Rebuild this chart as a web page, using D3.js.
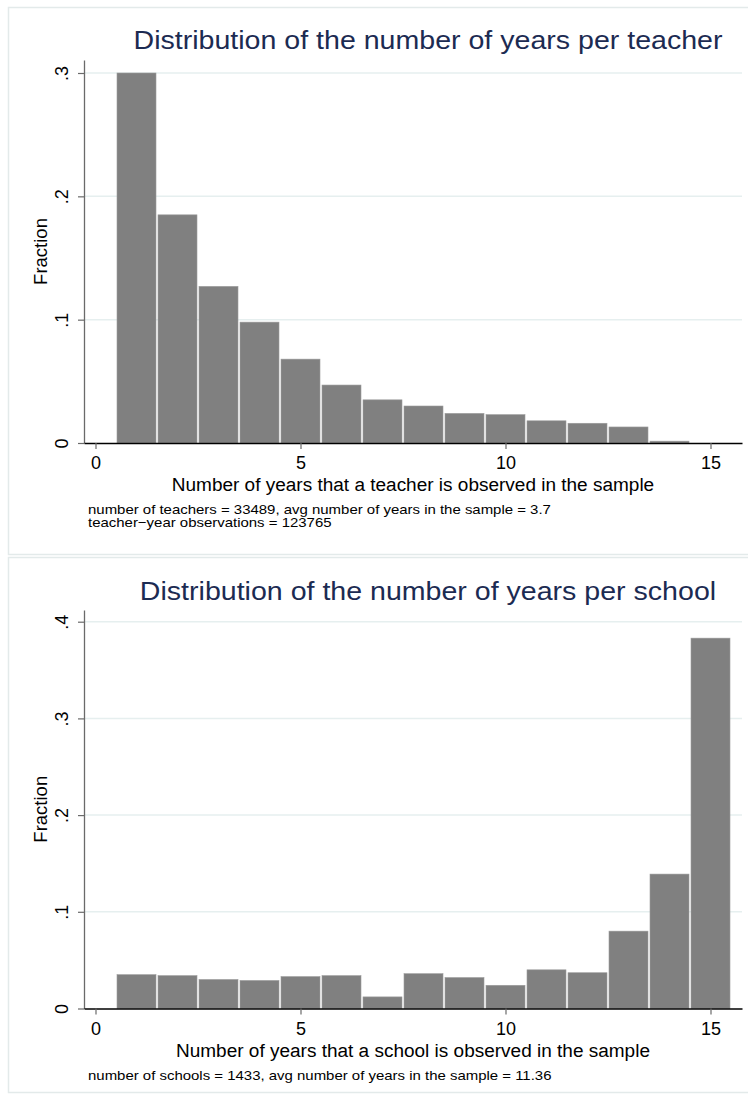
<!DOCTYPE html>
<html>
<head>
<meta charset="utf-8">
<script src="https://cdn.jsdelivr.net/npm/d3@7"></script>
<style>
  body { margin: 0; background: #fff; }
  svg text { font-family: "Liberation Sans", Arial, sans-serif; }
</style>
</head>
<body>
<div id="chart"></div>
<script>
// Data
const years = [1, 2, 3, 4, 5, 6, 7, 8, 9, 10, 11, 12, 13, 14, 15];
const teacherFraction = [0.300, 0.185, 0.127, 0.098, 0.068, 0.047, 0.035, 0.030, 0.024, 0.023, 0.018, 0.016, 0.013, 0.0015, 0];
const schoolFraction = [0.035, 0.034, 0.030, 0.029, 0.033, 0.034, 0.012, 0.036, 0.032, 0.024, 0.040, 0.037, 0.080, 0.139, 0.383];
const xTicks = [0, 5, 10, 15];
const teacherYTicks = [0, 0.1, 0.2, 0.3];
const schoolYTicks = [0, 0.1, 0.2, 0.3, 0.4];
const yTickLabel = (d) => (d === 0 ? "0" : d3.format(".1f")(d).replace(/^0/, ""));

const width = 748,
  height = 1097;

const svg = d3
  .select("#chart")
  .append("svg")
  .attr("width", width)
  .attr("height", height);

// the reference text is a little wider than Liberation Sans at the same height
function stretch(sel, factor) {
  sel.each(function () {
    const len = this.getComputedTextLength();
    d3.select(this)
      .attr("textLength", len * factor)
      .attr("lengthAdjust", "spacingAndGlyphs");
  });
}

// Draw one Stata-style histogram panel
function drawPanel(opts) {
  const g = svg.append("g");

  // panel frame
  g.append("rect")
    .attr("x", 8.5)
    .attr("y", opts.frameTop + 0.5)
    .attr("width", 800)
    .attr("height", opts.frameHeight)
    .attr("fill", "none")
    .attr("stroke", "#e3eaea")
    .attr("stroke-width", 1.5);

  const left = 84,
    right = 742;
  const x0 = 95.5,
    x15 = 710.5;
  const pxPerYear = (x15 - x0) / 15;
  const xScale = d3
    .scaleLinear()
    .domain([(left - x0) / pxPerYear, (right - x0) / pxPerYear])
    .range([left, right]);

  const yTopTick = d3.max(opts.yTicks);
  const yScale = d3
    .scaleLinear()
    .domain([0, (yTopTick * (opts.y0 - opts.plotTop)) / (opts.y0 - opts.yTopPx)])
    .range([opts.y0, opts.plotTop]);

  // gridlines
  g.append("g")
    .selectAll("line")
    .data(opts.yTicks.filter((d) => d > 0))
    .enter()
    .append("line")
    .attr("x1", left)
    .attr("x2", right)
    .attr("y1", (d) => yScale(d))
    .attr("y2", (d) => yScale(d))
    .attr("stroke", "#e6efef")
    .attr("stroke-width", 1.5);

  // bars
  g.append("g")
    .selectAll("rect")
    .data(years.map((y, i) => ({ year: y, value: opts.values[i] })).filter((d) => d.value > 0))
    .enter()
    .append("rect")
    .attr("x", (d) => xScale(d.year - 0.5) + 1)
    .attr("width", (d) => xScale(d.year + 0.5) - xScale(d.year - 0.5) - 2)
    .attr("y", (d) => yScale(d.value))
    .attr("height", (d) => opts.y0 - yScale(d.value))
    .attr("fill", "#808080")
    .attr("stroke", "#9c9c9c")
    .attr("stroke-width", 0.6);

  // y axis
  const yAxis = g
    .append("g")
    .attr("transform", `translate(${left},0)`)
    .call(
      d3.axisLeft(yScale).tickValues(opts.yTicks).tickSize(6).tickSizeOuter(0).tickFormat(yTickLabel)
    );
  yAxis.select(".domain").attr("stroke", "#6a6a6a").attr("stroke-width", 1.3);
  yAxis.selectAll(".tick line").attr("stroke", "#6a6a6a").attr("stroke-width", 1.2);
  yAxis
    .selectAll(".tick text")
    .attr("x", 0)
    .attr("dy", 0)
    .attr("transform", "translate(-16,0) rotate(-90)")
    .attr("text-anchor", "middle")
    .attr("fill", "#000")
    .style("font-size", "18px");

  // x axis
  const xAxis = g
    .append("g")
    .attr("transform", `translate(0,${opts.y0})`)
    .call(d3.axisBottom(xScale).tickValues(xTicks).tickSize(6).tickSizeOuter(0));
  xAxis.select(".domain").attr("stroke", "#000").attr("stroke-width", 1.3);
  xAxis.selectAll(".tick line").attr("stroke", "#6a6a6a").attr("stroke-width", 1.2);
  xAxis
    .selectAll(".tick text")
    .attr("y", 10)
    .attr("dy", "0.9em")
    .attr("fill", "#000")
    .style("font-size", "18px");

  // titles
  g.append("text")
    .attr("x", 428)
    .attr("y", opts.titleY)
    .attr("text-anchor", "middle")
    .attr("fill", "#1c2b52")
    .style("font-size", "25.5px")
    .text(opts.title)
    .call(stretch, 1.12);

  g.append("text")
    .attr("transform", `translate(47,${(opts.y0 + opts.plotTop) / 2}) rotate(-90)`)
    .attr("text-anchor", "middle")
    .attr("fill", "#000")
    .style("font-size", "18.5px")
    .text("Fraction");

  g.append("text")
    .attr("x", (left + right) / 2)
    .attr("y", opts.y0 + 48)
    .attr("text-anchor", "middle")
    .attr("fill", "#000")
    .style("font-size", "18px")
    .text(opts.xTitle)
    .call(stretch, 1.055);

  g.append("g")
    .selectAll("text")
    .data(opts.notes)
    .enter()
    .append("text")
    .attr("x", 88)
    .attr("y", (d, i) => opts.y0 + 71 + i * 13)
    .attr("fill", "#000")
    .style("font-size", "13px")
    .text((d) => d)
    .call(stretch, 1.15);
}

drawPanel({
  frameTop: 7,
  frameHeight: 547,
  plotTop: 60,
  y0: 443,
  yTopPx: 73,
  yTicks: teacherYTicks,
  values: teacherFraction,
  title: "Distribution of the number of years per teacher",
  titleY: 49,
  xTitle: "Number of years that a teacher is observed in the sample",
  notes: [
    "number of teachers = 33489, avg number of years in the sample = 3.7",
    "teacher\u2212year observations = 123765",
  ],
});

drawPanel({
  frameTop: 557,
  frameHeight: 535,
  plotTop: 610,
  y0: 1008.5,
  yTopPx: 621.7,
  yTicks: schoolYTicks,
  values: schoolFraction,
  title: "Distribution of the number of years per school",
  titleY: 600,
  xTitle: "Number of years that a school is observed in the sample",
  notes: ["number of schools = 1433, avg number of years in the sample = 11.36"],
});
</script>
</body>
</html>
